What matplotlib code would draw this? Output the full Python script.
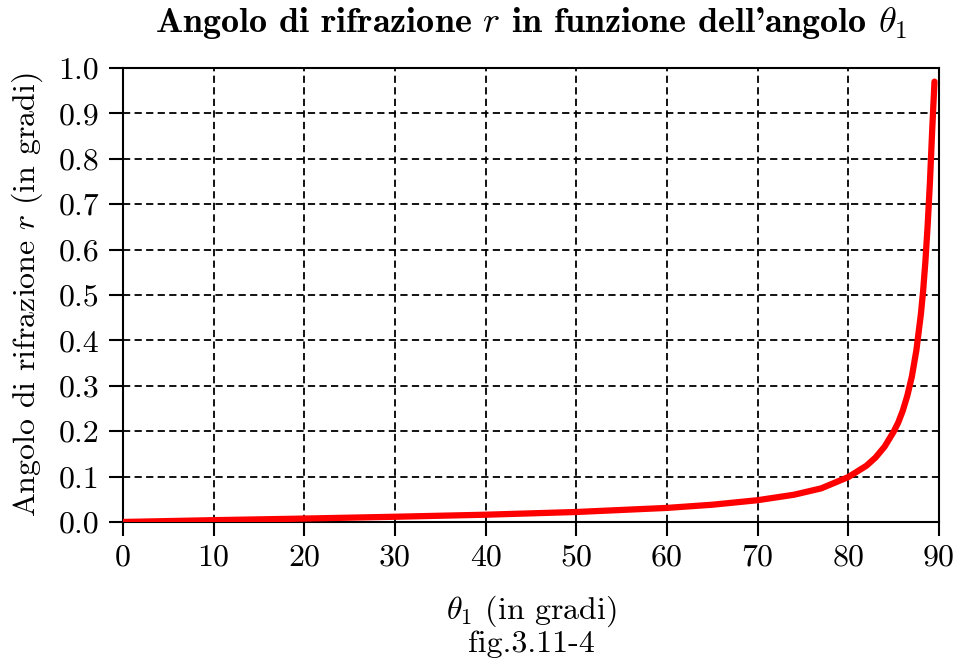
import numpy as np
import matplotlib
matplotlib.use("Agg")
import matplotlib.pyplot as plt

# valori (theta1 in gradi, r in gradi)
theta1 = [0, 10, 20, 30, 40, 50, 60, 65, 70, 74, 77, 80, 82, 83, 84, 85,
          85.5, 86, 86.5, 87, 87.5, 88, 88.25, 88.5, 88.75, 89, 89.25, 89.5]
r_rifr = [0.0, 0.004, 0.0075, 0.0115, 0.016, 0.022, 0.031, 0.038, 0.048,
          0.060, 0.074, 0.099, 0.124, 0.142, 0.166, 0.199, 0.219, 0.245,
          0.278, 0.32, 0.378, 0.458, 0.51, 0.575, 0.655, 0.75, 0.865, 0.97]

xticks = np.arange(0, 91, 10)
yticks = np.round(np.arange(0, 1.01, 0.1), 1)

plt.rcParams['font.family'] = ['cmr10', 'DejaVu Serif']
plt.rcParams['mathtext.fontset'] = 'cm'
plt.rcParams['axes.formatter.use_mathtext'] = True
plt.rcParams['axes.unicode_minus'] = False

fig = plt.figure(figsize=(9.58, 6.68), dpi=100)
ax = fig.add_axes([0.1284, 0.2186, 0.8518, 0.6796])

ax.plot(theta1, r_rifr, color='red', lw=4.5, solid_capstyle='round',
        solid_joinstyle='round', zorder=3)

ax.set_xlim(0, 90)
ax.set_ylim(0, 1.0)
ax.set_xticks(xticks)
ax.set_yticks(yticks)
ax.set_xticklabels([str(v) for v in xticks])
ax.set_yticklabels(["%.1f" % v for v in yticks])

ax.grid(True, color='black', lw=1.3, linestyle=(0, (4, 2.4)))
for s in ax.spines.values():
    s.set_linewidth(1.5)
ax.tick_params(direction='out', length=10, width=1.5, labelsize=23,
               top=False, right=False)
ax.tick_params(axis='x', pad=6)
ax.tick_params(axis='y', pad=7)

ax.set_title(r"Angolo di rifrazione $r$ in funzione dell'angolo $\theta_1$",
             fontsize=26, family='cmb10', pad=26)
ax.set_xlabel("$\\theta_1$ (in gradi)\nfig.3.11-4", fontsize=23,
              labelpad=16, linespacing=1.05)
ax.set_ylabel("Angolo di rifrazione $r$ (in gradi)", fontsize=23, labelpad=10)

fig.savefig("out.png", dpi=100)
